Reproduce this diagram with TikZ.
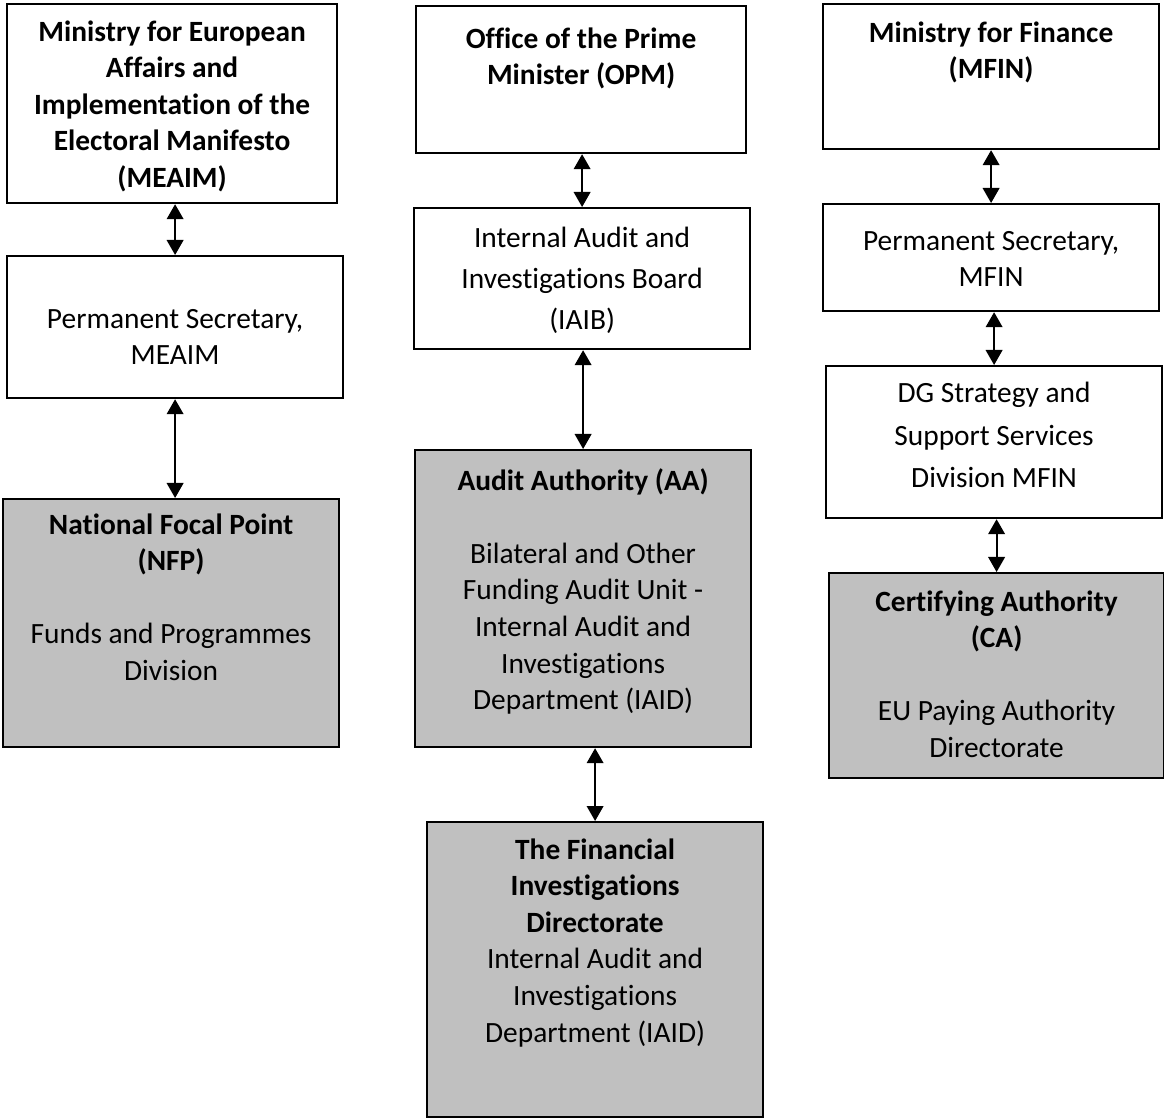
\documentclass[tikz,border=0pt]{standalone}
\usepackage{fontspec}
\setmainfont{Carlito}[Ligatures=NoCommon]
\usepackage{tikz}
\usepackage{xcolor}
\usetikzlibrary{arrows.meta}

\definecolor{authgray}{HTML}{C0C0C0}

\tikzset{
    unit/.style={draw, line width=1.1pt, anchor=north west, inner sep=0pt, fill=white},
    authority/.style={unit, fill=authgray},
    link/.style={line width=1pt, {Triangle[width=8.3pt,length=7.5pt]}-{Triangle[width=8.3pt,length=7.5pt]}}
}

% box text: height, width, top gap, text
\newcommand{\boxtext}[4]{\parbox[c][#1][t]{#2}{\centering\vspace*{#3}\strut #4}}

\begin{document}
\begin{tikzpicture}[x=0.5pt,y=-0.5pt,font=\fontsize{14.7pt}{18.3pt}\selectfont]
    \useasboundingbox (0,0) rectangle (1164,1118);

    % left column
    \node[unit] (meaim) at (6,3) {\boxtext{99.5pt}{165pt}{5.7pt}{\bfseries Ministry for European\\ Affairs and\\ Implementation of the\\ Electoral Manifesto\\ (MEAIM)}};
    \node[unit] (psmeaim) at (6,255) {\boxtext{71pt}{168pt}{23.2pt}{Permanent Secretary,\\ MEAIM}};
    \node[authority] (nfp) at (2,498) {\boxtext{124pt}{168pt}{4.7pt}{\textbf{National Focal Point}\\ \textbf{(NFP)}\\[\baselineskip] Funds and Programmes\\ Division}};

    % middle column
    \node[unit] (opm) at (415,5) {\boxtext{73.5pt}{165pt}{8.2pt}{\bfseries Office of the Prime\\ Minister (OPM)}};
    \node[unit] (iaib) at (413,207) {\fontsize{14.7pt}{20.5pt}\selectfont\boxtext{70.5pt}{168pt}{5.2pt}{Internal Audit and\\ Investigations Board\\ (IAIB)}};
    \node[authority] (aa) at (414,449) {\boxtext{148.5pt}{168pt}{7.2pt}{\textbf{Audit Authority (AA)}\\[\baselineskip] Bilateral and Other\\ Funding Audit Unit -\\ Internal Audit and\\ Investigations\\ Department (IAID)}};
    \node[authority] (fid) at (426,821) {\boxtext{147.5pt}{168pt}{5.7pt}{\textbf{The Financial}\\ \textbf{Investigations}\\ \textbf{Directorate}\\ Internal Audit and\\ Investigations\\ Department (IAID)}};

    % right column
    \node[unit] (mfin) at (822,3) {\boxtext{72.5pt}{168pt}{6.2pt}{\bfseries Ministry for Finance\\ (MFIN)}};
    \node[unit] (psmfin) at (822,203) {\boxtext{53.5pt}{168pt}{10.2pt}{Permanent Secretary,\\ MFIN}};
    \node[unit] (dgss) at (825,365) {\fontsize{14.7pt}{21.2pt}\selectfont\boxtext{76pt}{168pt}{3.6pt}{DG Strategy and\\ Support Services\\ Division MFIN}};
    \node[authority] (ca) at (828,572) {\boxtext{102.5pt}{167.5pt}{6.2pt}{\textbf{Certifying Authority}\\ \textbf{(CA)}\\[\baselineskip] EU Paying Authority\\ Directorate}};

    % links
    \draw[link] (psmeaim.north |- meaim.south) -- (psmeaim.north);
    \draw[link] (nfp.north -| psmeaim.south) -- (psmeaim.south);
    \draw[link] (iaib.north |- opm.south) -- (iaib.north);
    \draw[link] (aa.north |- iaib.south) -- (aa.north);
    \draw[link] (fid.north |- aa.south) -- (fid.north);
    \draw[link] (psmfin.north |- mfin.south) -- (psmfin.north);
    \draw[link] (dgss.north |- psmfin.south) -- (dgss.north);
    \draw[link] (ca.north |- dgss.south) -- (ca.north);
\end{tikzpicture}
\end{document}
